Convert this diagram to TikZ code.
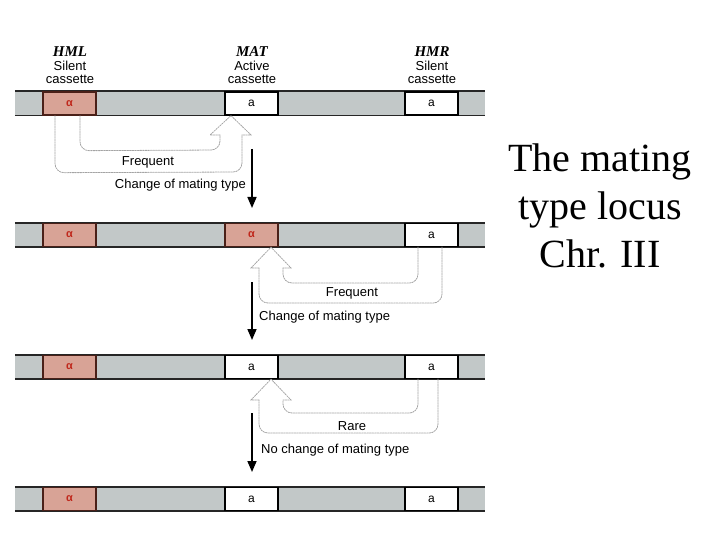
\documentclass[tikz,border=0pt]{standalone}
\usepackage{fontspec}
\setmainfont{Liberation Serif}
\newfontfamily\lsans{Liberation Sans}
\usetikzlibrary{arrows.meta,calc}
\definecolor{barfill}{HTML}{C2C8C8}
\definecolor{alfill}{HTML}{D8A396}
\definecolor{alline}{HTML}{4A2018}
\definecolor{altext}{HTML}{C0281C}
\definecolor{hollow}{HTML}{A4A4A4}
\tikzset{
  bar/.style={fill=barfill, draw=none, minimum width=470pt, minimum height=24pt, inner sep=0pt},
  alphabox/.style={fill=alfill, draw=alline, line width=1.4pt, minimum width=53pt, minimum height=23pt, inner sep=0pt, font=\lsans\fontsize{11}{12}\selectfont\bfseries, text=altext},
  abox/.style={fill=white, draw=black, line width=1.2pt, minimum width=53pt, minimum height=23pt, inner sep=0pt, font=\lsans\fontsize{12}{12}\selectfont},
  edge/.style={line width=1.6pt, draw=black!85},
  hol/.style={draw=hollow, line width=0.8pt, dash pattern=on 1.6pt off 1pt, line cap=round},
  holr/.style={hol, rounded corners=9pt},
  darrow/.style={line width=1.6pt, -{Triangle[width=9pt,length=11pt]}},
  lab/.style={font=\lsans\fontsize{13}{15}\selectfont, inner sep=0pt},
  hdr/.style={font=\fontsize{15}{17}\selectfont\bfseries\itshape, inner sep=0pt},
  ttl/.style={font=\fontsize{40}{47}\selectfont, inner sep=0pt, anchor=base}
}
\begin{document}
\begin{tikzpicture}[x=1pt,y=-1pt]
\useasboundingbox (0,0) rectangle (720,540);
% title
\node[ttl] (t1) at (600,172) {The mating};
\node[ttl] (t2) at (600,220) {type locus};
\node[ttl] (t3) at (600,267) {Chr. III};
% header labels
\node[hdr] (h1) at (70,52) {HML};
\node[lab] (h1b) at (70,66) {Silent};
\node[lab] (h1c) at (70,79) {cassette};
\node[hdr] (h2) at (252,52) {MAT};
\node[lab] (h2b) at (252,66) {Active};
\node[lab] (h2c) at (252,79) {cassette};
\node[hdr] (h3) at (432,52) {HMR};
\node[lab] (h3b) at (432,66) {Silent};
\node[lab] (h3c) at (432,79) {cassette};
% rows
\foreach \r/\y/\mt/\ms in {1/103.5/abox/a, 2/235/alphabox/α, 3/367/abox/a, 4/499/abox/a}{
  \node[bar] (bar\r) at (250,\y) {};
  \draw[edge] (bar\r.north west) -- (bar\r.north east);
  \draw[edge] (bar\r.south west) -- (bar\r.south east);
  \node[alphabox] (hml\r) at (69.5,\y) {α};
  \node[\mt] (mat\r) at (251.5,\y) {\ms};
  \node[abox] (hmr\r) at (431.5,\y) {a};
}
% hollow arrow 1: HML -> MAT
\draw[holr] ([xshift=-14.5pt]hml1.south) -- ++(0,57) -- (242,172) -- (242,135);
\draw[holr] ([xshift=10.5pt]hml1.south) -- ++(0,35) -- (220,150) -- (220,135);
\draw[hol] (220,135) -- (210,135) -- ([xshift=-20.5pt]mat1.south) -- (251,135) -- (242,135);
% black arrow 1
\coordinate (d1a) at (252,149);
\coordinate (d1b) at (252,208);
\draw[darrow] (d1a) -- (d1b);
\node[lab] (f1) at (148,162) {Frequent};
\node[lab, anchor=east] (c1) at (246,185) {Change of mating type};
% hollow arrow 2: HMR -> MAT
\draw[holr] ([xshift=10.5pt]hmr2.south) -- ++(0,56) -- (259,303) -- (259,268);
\draw[holr] ([xshift=-13.5pt]hmr2.south) -- ++(0,36) -- (283,283) -- (283,268);
\draw[hol] (259,268) -- (251,268) -- ([xshift=19.5pt]mat2.south) -- (291,268) -- (283,268);
\coordinate (d2a) at (252,282);
\coordinate (d2b) at (252,340);
\draw[darrow] (d2a) -- (d2b);
\node[lab] (f2) at (352,293) {Frequent};
\node[lab, anchor=west] (c2) at (259,317) {Change of mating type};
% hollow arrow 3: HMR -> MAT (rare)
\draw[holr] ([xshift=6.5pt]hmr3.south) -- ++(0,54) -- (259,433) -- (259,400);
\draw[holr] ([xshift=-13.5pt]hmr3.south) -- ++(0,34) -- (283,413) -- (283,400);
\draw[hol] (259,400) -- (251,400) -- ([xshift=19.5pt]mat3.south) -- (291,400) -- (283,400);
\coordinate (d3a) at (252,413);
\coordinate (d3b) at (252,472);
\draw[darrow] (d3a) -- (d3b);
\node[lab] (f3) at (352,426) {Rare};
\node[lab, anchor=west] (c3) at (261,450) {No change of mating type};
\end{tikzpicture}
\end{document}
